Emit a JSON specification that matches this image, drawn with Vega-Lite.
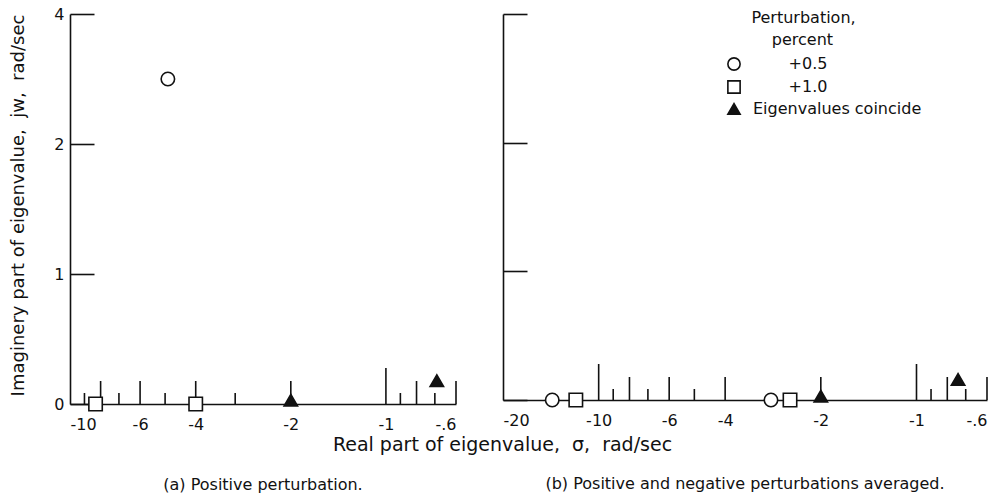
{
  "$schema": "https://vega.github.io/schema/vega-lite/v6.json",
  "background": "white",
  "padding": {"left": 8, "top": 6, "right": 5, "bottom": 5},
  "config": {
    "font": "DejaVu Sans",
    "view": {"stroke": null},
    "axis": {"grid": false, "domainColor": "#111", "domainWidth": 1.6, "tickColor": "#111", "tickWidth": 1.6, "labelColor": "#111", "labelFont": "DejaVu Sans", "labelFontSize": 16, "titleColor": "#111", "titleFont": "DejaVu Sans", "titleFontWeight": "normal", "titleFontSize": 18},
    "legend": {"titleFont": "DejaVu Sans", "titleFontSize": 16, "titleFontWeight": "normal", "titleColor": "#111", "labelFont": "DejaVu Sans", "labelFontSize": 16, "labelColor": "#111", "labelLimit": 400, "titleLimit": 400, "symbolStrokeColor": "#111", "symbolStrokeWidth": 1.6, "symbolSize": 150, "rowPadding": 3, "titlePadding": 8, "titleLineHeight": 22, "padding": 0, "labelOffset": 11},
    "title": {"font": "DejaVu Sans", "fontSize": 16, "fontWeight": "normal", "color": "#111"}
  },
  "datasets": {
    "pts": [
      {"panel": "a", "x": -4.9, "y": 3.0, "type": "+0.5"},
      {"panel": "a", "x": -8.3, "y": 0, "type": "+1.0"},
      {"panel": "a", "x": -4.0, "y": 0, "type": "+1.0"},
      {"panel": "a", "x": -2.0, "y": 0.03, "type": "Eigenvalues coincide"},
      {"panel": "a", "x": -0.69, "y": 0.18, "type": "Eigenvalues coincide"},
      {"panel": "b", "x": -14.0, "y": 0, "type": "+0.5"},
      {"panel": "b", "x": -11.8, "y": 0, "type": "+1.0"},
      {"panel": "b", "x": -2.87, "y": 0, "type": "+0.5"},
      {"panel": "b", "x": -2.5, "y": 0, "type": "+1.0"},
      {"panel": "b", "x": -2.0, "y": 0.03, "type": "Eigenvalues coincide"},
      {"panel": "b", "x": -0.74, "y": 0.16, "type": "Eigenvalues coincide"}
    ],
    "ticksA": [
      {"x": -9, "len": "short"},
      {"x": -8, "len": "mid"},
      {"x": -7, "len": "short"},
      {"x": -6, "len": "mid"},
      {"x": -5, "len": "short"},
      {"x": -4, "len": "mid"},
      {"x": -3, "len": "short"},
      {"x": -2, "len": "mid"},
      {"x": -1, "len": "long"},
      {"x": -0.9, "len": "short"},
      {"x": -0.8, "len": "mid"},
      {"x": -0.7, "len": "short"},
      {"x": -0.6, "len": "mid"}
    ],
    "ticksB": [
      {"x": -10, "len": "long"},
      {"x": -9, "len": "short"},
      {"x": -8, "len": "mid"},
      {"x": -7, "len": "short"},
      {"x": -6, "len": "mid"},
      {"x": -5, "len": "short"},
      {"x": -4, "len": "mid"},
      {"x": -2, "len": "mid"},
      {"x": -1, "len": "long"},
      {"x": -0.9, "len": "short"},
      {"x": -0.8, "len": "mid"},
      {"x": -0.7, "len": "short"},
      {"x": -0.6, "len": "mid"}
    ]
  },
  "bounds": "flush",
  "spacing": 47,
  "resolve": {"legend": {"shape": "independent", "fill": "independent", "stroke": "independent"}},
  "hconcat": [
    {
      "width": 386,
      "height": 390,
      "title": {"text": "(a) Positive perturbation.", "orient": "bottom", "anchor": "middle", "frame": "group", "offset": 23},
      "layer": [
        {"data": {"name": "ticksA"}, "transform": [{"filter": {"field": "len", "equal": "long"}}],
          "mark": {"type": "rule", "y2Offset": -36, "strokeWidth": 1.6, "color": "#111"},
          "encoding": {
            "x": {"field": "x", "type": "quantitative", "scale": {"type": "log", "domain": [-10, -0.6], "nice": false, "zero": false},
              "axis": {"values": [-10, -6, -4, -2, -1, -0.6], "ticks": false, "labelPadding": 12, "labelExpr": "datum.value == -0.6 ? '-.6' : '-' + format(-datum.value, 'd')", "title": "Real part of eigenvalue,\u00a0\u00a0σ,\u00a0\u00a0rad/sec", "titleFontSize": 19, "titleX": 432, "titleY": 40, "titleBaseline": "middle", "titleAlign": "center", "titleAnchor": null}},
            "y": {"datum": 0, "type": "quantitative", "scale": {"domain": [0, 1, 2, 4], "range": [390, 260, 130, 0], "nice": false, "zero": false},
              "axis": {"values": [0, 1, 2, 4], "tickSize": -24, "labelPadding": 30, "title": "Imaginery part of eigenvalue,\u00a0\u00a0jw,\u00a0\u00a0rad/sec", "titleX": -52, "titleY": 191, "titleAngle": 270, "titleBaseline": "middle", "titleAlign": "center"}},
            "y2": {"datum": 0}}},
        {"data": {"name": "ticksA"}, "transform": [{"filter": {"field": "len", "equal": "mid"}}],
          "mark": {"type": "rule", "y2Offset": -23, "strokeWidth": 1.6, "color": "#111"},
          "encoding": {
            "x": {"field": "x", "type": "quantitative", "scale": {"type": "log", "domain": [-10, -0.6], "nice": false, "zero": false},
              "axis": {"values": [-10, -6, -4, -2, -1, -0.6], "ticks": false, "labelPadding": 12, "labelExpr": "datum.value == -0.6 ? '-.6' : '-' + format(-datum.value, 'd')", "title": "Real part of eigenvalue,\u00a0\u00a0σ,\u00a0\u00a0rad/sec", "titleFontSize": 19, "titleX": 432, "titleY": 40, "titleBaseline": "middle", "titleAlign": "center", "titleAnchor": null}},
            "y": {"datum": 0, "type": "quantitative", "scale": {"domain": [0, 1, 2, 4], "range": [390, 260, 130, 0], "nice": false, "zero": false},
              "axis": {"values": [0, 1, 2, 4], "tickSize": -24, "labelPadding": 30, "title": "Imaginery part of eigenvalue,\u00a0\u00a0jw,\u00a0\u00a0rad/sec", "titleX": -52, "titleY": 191, "titleAngle": 270, "titleBaseline": "middle", "titleAlign": "center"}},
            "y2": {"datum": 0}}},
        {"data": {"name": "ticksA"}, "transform": [{"filter": {"field": "len", "equal": "short"}}],
          "mark": {"type": "rule", "y2Offset": -11, "strokeWidth": 1.6, "color": "#111"},
          "encoding": {
            "x": {"field": "x", "type": "quantitative", "scale": {"type": "log", "domain": [-10, -0.6], "nice": false, "zero": false},
              "axis": {"values": [-10, -6, -4, -2, -1, -0.6], "ticks": false, "labelPadding": 12, "labelExpr": "datum.value == -0.6 ? '-.6' : '-' + format(-datum.value, 'd')", "title": "Real part of eigenvalue,\u00a0\u00a0σ,\u00a0\u00a0rad/sec", "titleFontSize": 19, "titleX": 432, "titleY": 40, "titleBaseline": "middle", "titleAlign": "center", "titleAnchor": null}},
            "y": {"datum": 0, "type": "quantitative", "scale": {"domain": [0, 1, 2, 4], "range": [390, 260, 130, 0], "nice": false, "zero": false},
              "axis": {"values": [0, 1, 2, 4], "tickSize": -24, "labelPadding": 30, "title": "Imaginery part of eigenvalue,\u00a0\u00a0jw,\u00a0\u00a0rad/sec", "titleX": -52, "titleY": 191, "titleAngle": 270, "titleBaseline": "middle", "titleAlign": "center"}},
            "y2": {"datum": 0}}},
        {"data": {"name": "pts"}, "transform": [{"filter": {"field": "panel", "equal": "a"}}],
          "mark": {"type": "point", "size": 180, "strokeWidth": 1.6, "opacity": 1},
          "encoding": {
            "x": {"field": "x", "type": "quantitative", "scale": {"type": "log", "domain": [-10, -0.6], "nice": false, "zero": false},
              "axis": {"values": [-10, -6, -4, -2, -1, -0.6], "ticks": false, "labelPadding": 12, "labelExpr": "datum.value == -0.6 ? '-.6' : '-' + format(-datum.value, 'd')", "title": "Real part of eigenvalue,\u00a0\u00a0σ,\u00a0\u00a0rad/sec", "titleFontSize": 19, "titleX": 432, "titleY": 40, "titleBaseline": "middle", "titleAlign": "center", "titleAnchor": null}},
            "y": {"field": "y", "type": "quantitative", "scale": {"domain": [0, 1, 2, 4], "range": [390, 260, 130, 0], "nice": false, "zero": false},
              "axis": {"values": [0, 1, 2, 4], "tickSize": -24, "labelPadding": 30, "title": "Imaginery part of eigenvalue,\u00a0\u00a0jw,\u00a0\u00a0rad/sec", "titleX": -52, "titleY": 191, "titleAngle": 270, "titleBaseline": "middle", "titleAlign": "center"}},
            "shape": {"field": "type", "type": "nominal", "scale": {"domain": ["+0.5", "+1.0", "Eigenvalues coincide"], "range": ["circle", "square", "triangle-up"]}, "legend": null},
            "fill": {"field": "type", "type": "nominal", "scale": {"domain": ["+0.5", "+1.0", "Eigenvalues coincide"], "range": ["white", "white", "#111"]}, "legend": null},
            "stroke": {"field": "type", "type": "nominal", "scale": {"domain": ["+0.5", "+1.0", "Eigenvalues coincide"], "range": ["#111", "#111", "#111"]}, "legend": null}
          }}
      ]
    },
    {
      "width": 484,
      "height": 386,
      "title": {"text": "(b) Positive and negative perturbations averaged.", "orient": "bottom", "anchor": "middle", "frame": "group", "offset": 48},
      "layer": [
        {"data": {"name": "ticksB"}, "transform": [{"filter": {"field": "len", "equal": "long"}}],
          "mark": {"type": "rule", "y2Offset": -36, "strokeWidth": 1.6, "color": "#111"},
          "encoding": {
            "x": {"field": "x", "type": "quantitative", "scale": {"type": "log", "domain": [-20, -0.6], "nice": false, "zero": false},
              "axis": {"values": [-20, -10, -6, -4, -2, -1, -0.6], "ticks": false, "labelPadding": 12, "labelExpr": "datum.value == -0.6 ? '-.6' : '-' + format(-datum.value, 'd')", "title": null}},
            "y": {"datum": 0, "type": "quantitative", "scale": {"domain": [0, 1, 2, 4], "range": [386, 257, 129, 0], "nice": false, "zero": false},
              "axis": {"values": [0, 1, 2, 4], "tickSize": -24, "labels": false, "title": null}},
            "y2": {"datum": 0}}},
        {"data": {"name": "ticksB"}, "transform": [{"filter": {"field": "len", "equal": "mid"}}],
          "mark": {"type": "rule", "y2Offset": -23, "strokeWidth": 1.6, "color": "#111"},
          "encoding": {
            "x": {"field": "x", "type": "quantitative", "scale": {"type": "log", "domain": [-20, -0.6], "nice": false, "zero": false},
              "axis": {"values": [-20, -10, -6, -4, -2, -1, -0.6], "ticks": false, "labelPadding": 12, "labelExpr": "datum.value == -0.6 ? '-.6' : '-' + format(-datum.value, 'd')", "title": null}},
            "y": {"datum": 0, "type": "quantitative", "scale": {"domain": [0, 1, 2, 4], "range": [386, 257, 129, 0], "nice": false, "zero": false},
              "axis": {"values": [0, 1, 2, 4], "tickSize": -24, "labels": false, "title": null}},
            "y2": {"datum": 0}}},
        {"data": {"name": "ticksB"}, "transform": [{"filter": {"field": "len", "equal": "short"}}],
          "mark": {"type": "rule", "y2Offset": -11, "strokeWidth": 1.6, "color": "#111"},
          "encoding": {
            "x": {"field": "x", "type": "quantitative", "scale": {"type": "log", "domain": [-20, -0.6], "nice": false, "zero": false},
              "axis": {"values": [-20, -10, -6, -4, -2, -1, -0.6], "ticks": false, "labelPadding": 12, "labelExpr": "datum.value == -0.6 ? '-.6' : '-' + format(-datum.value, 'd')", "title": null}},
            "y": {"datum": 0, "type": "quantitative", "scale": {"domain": [0, 1, 2, 4], "range": [386, 257, 129, 0], "nice": false, "zero": false},
              "axis": {"values": [0, 1, 2, 4], "tickSize": -24, "labels": false, "title": null}},
            "y2": {"datum": 0}}},
        {"data": {"name": "pts"}, "transform": [{"filter": {"field": "panel", "equal": "b"}}],
          "mark": {"type": "point", "size": 180, "strokeWidth": 1.6, "opacity": 1},
          "encoding": {
            "x": {"field": "x", "type": "quantitative", "scale": {"type": "log", "domain": [-20, -0.6], "nice": false, "zero": false},
              "axis": {"values": [-20, -10, -6, -4, -2, -1, -0.6], "ticks": false, "labelPadding": 12, "labelExpr": "datum.value == -0.6 ? '-.6' : '-' + format(-datum.value, 'd')", "title": null}},
            "y": {"field": "y", "type": "quantitative", "scale": {"domain": [0, 1, 2, 4], "range": [386, 257, 129, 0], "nice": false, "zero": false},
              "axis": {"values": [0, 1, 2, 4], "tickSize": -24, "labels": false, "title": null}},
            "shape": {"field": "type", "type": "nominal", "scale": {"domain": ["+0.5", "+1.0", "Eigenvalues coincide"], "range": ["circle", "square", "triangle-up"]},
              "legend": {"orient": "none", "legendX": 223, "legendY": -4, "title": ["\u200b\u00a0\u00a0\u00a0\u00a0\u00a0Perturbation,", "\u200b\u00a0\u00a0\u00a0\u00a0\u00a0\u00a0\u00a0\u00a0\u00a0percent"], "titleAlign": "left", "labelExpr": "datum.label == 'Eigenvalues coincide' ? datum.label : '\u200b\u00a0\u00a0\u00a0\u00a0\u00a0\u00a0\u00a0' + datum.label"}},
            "fill": {"field": "type", "type": "nominal", "scale": {"domain": ["+0.5", "+1.0", "Eigenvalues coincide"], "range": ["white", "white", "#111"]},
              "legend": {"orient": "none", "legendX": 223, "legendY": -4, "title": ["\u200b\u00a0\u00a0\u00a0\u00a0\u00a0Perturbation,", "\u200b\u00a0\u00a0\u00a0\u00a0\u00a0\u00a0\u00a0\u00a0\u00a0percent"], "titleAlign": "left", "labelExpr": "datum.label == 'Eigenvalues coincide' ? datum.label : '\u200b\u00a0\u00a0\u00a0\u00a0\u00a0\u00a0\u00a0' + datum.label"}},
            "stroke": {"field": "type", "type": "nominal", "scale": {"domain": ["+0.5", "+1.0", "Eigenvalues coincide"], "range": ["#111", "#111", "#111"]},
              "legend": {"orient": "none", "legendX": 223, "legendY": -4, "title": ["\u200b\u00a0\u00a0\u00a0\u00a0\u00a0Perturbation,", "\u200b\u00a0\u00a0\u00a0\u00a0\u00a0\u00a0\u00a0\u00a0\u00a0percent"], "titleAlign": "left", "labelExpr": "datum.label == 'Eigenvalues coincide' ? datum.label : '\u200b\u00a0\u00a0\u00a0\u00a0\u00a0\u00a0\u00a0' + datum.label"}}
          }}
      ]
    }
  ]
}
